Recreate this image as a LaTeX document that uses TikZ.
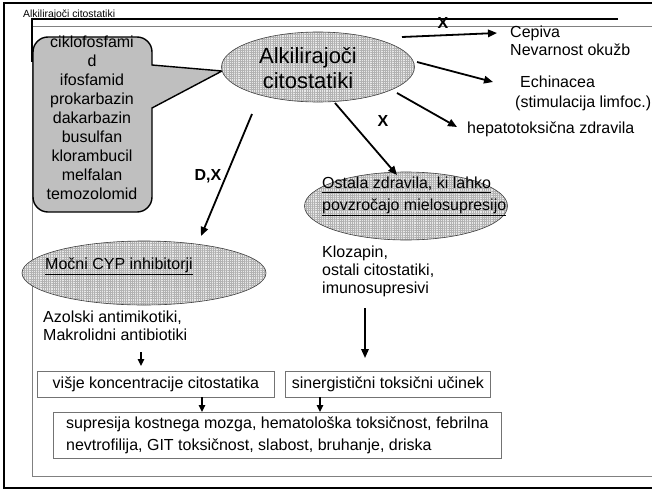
\documentclass[tikz,border=0pt]{standalone}
\usepackage{fontspec}
\setmainfont{Liberation Sans}
\usetikzlibrary{arrows.meta,shapes.geometric,patterns.meta}
\begin{document}
\begin{tikzpicture}[x=1pt,y=-1pt,
  txt/.style={inner sep=0pt, font=\fontsize{16}{18}\selectfont},
  lbl/.style={inner sep=0pt, font=\fontsize{16}{18}\selectfont\bfseries},
  arr/.style={line width=1.8pt, -{Triangle[length=9pt,width=7.5pt]}},
  sarr/.style={line width=1.5pt, -{Triangle[length=7pt,width=6.5pt]}},
  ell/.style={ellipse, draw=black!75, line width=0.6pt, inner sep=0pt,
    preaction={fill=gray!18},
    pattern={Hatch[angle=0,distance=2.2pt,line width=0.35pt]}, pattern color=gray!60},
  box/.style={draw=black!55, line width=0.8pt, inner sep=0pt,
    font=\fontsize{16}{22}\selectfont},
  callout/.style={draw=black, line width=1.4pt, fill=black!25}
]
\useasboundingbox (0,0) rectangle (652,490);
% frames
\draw[line width=2pt] (652,3) -- (4,3) -- (4,488) -- (652,488);
\draw[black!50, line width=0.8pt] (652,26) -- (32,26) -- (32,476) -- (652,476);
\draw[line width=1.2pt] (618,19) -- (32,19) -- (32,62);
\node[anchor=base west, inner sep=0pt, font=\fontsize{10.4}{12}\selectfont] (title) at (23,17.5) {Alkilirajoči citostatiki};

% callout
\draw[callout] (33,80) [rounded corners=15pt] -- (33,212) -- (152,212) -- (152,150)
  [sharp corners] -- (152,108) -- (222,71) -- (152,65) -- (152,55)
  [rounded corners=15pt] -- (152,37) -- (33,37) -- cycle;
\node[txt, align=center, anchor=north, font=\fontsize{16}{19}\selectfont] (drugs) at (92,36)
  {ciklofosfami\\d\\ifosfamid\\prokarbazin\\dakarbazin\\busulfan\\klorambucil\\melfalan\\temozolomid};

% ellipses
\node[ell, minimum width=193, minimum height=70] (main) at (318,67) {};
\node[inner sep=0pt, align=center, anchor=north, font=\fontsize{22}{25}\selectfont] (mainlbl) at (308,47) {Alkilirajoči\\citostatiki};

\node[ell, minimum width=203, minimum height=68] (ostala) at (406,206) {};
\node[txt, align=left, anchor=north west, font=\fontsize{16}{22}\selectfont] (ostalalbl) at (322,177)
  {\underline{Ostala zdravila, ki lahko}\\\underline{povzročajo mielosupresijo}};

\node[ell, minimum width=244, minimum height=64] (cyp) at (144,273) {};
\node[txt, anchor=north west] (cyplbl) at (45,258) {\underline{Močni CYP inhibitorji}};

% texts
\node[txt, align=left, anchor=north west] (cepiva) at (510,26) {Cepiva\\Nevarnost okužb};
\node[txt, align=left, anchor=north west, font=\fontsize{16}{20}\selectfont] (echin) at (515,76)
  {\hspace*{5pt}Echinacea\\(stimulacija limfoc.)};
\node[txt, anchor=north west] (hepato) at (467,122) {hepatotoksična zdravila};
\node[txt, align=left, anchor=north west] (azol) at (43,311) {Azolski antimikotiki,\\Makrolidni antibiotiki};
\node[txt, align=left, anchor=north west] (kloz) at (322,246) {Klozapin,\\ostali citostatiki,\\imunosupresivi};

% boxes
\node[box, minimum width=237, minimum height=26, anchor=north west] (visje) at (37,371) {višje koncentracije citostatika};
\node[box, minimum width=205, minimum height=26, anchor=north west] (siner) at (285,371) {sinergistični toksični učinek};
\node[box, align=left, minimum width=448, minimum height=46, anchor=north west] (bottom) at (53,412)
  {supresija kostnega mozga, hematološka toksičnost, febrilna\\nevtrofilija, GIT toksičnost, slabost, bruhanje, driska};

% connector endpoints
\coordinate (s1) at (402,37); \coordinate (e1) at (497,33);
\coordinate (s2) at (417,62); \coordinate (e2) at (493,82);
\coordinate (s3) at (397,93); \coordinate (e3) at (457,127);
\coordinate (s4) at (335,103); \coordinate (e4) at (397,175);
\coordinate (s5) at (252,114); \coordinate (e5) at (201,236);
\coordinate (s6) at (141,352); \coordinate (e6) at (141,366);
\coordinate (s7) at (365,308); \coordinate (e7) at (365,358);
\coordinate (s8) at (202,397);
\coordinate (s9) at (320,397);

\draw[arr] (s1) -- (e1);
\draw[arr] (s2) -- (e2);
\draw[arr] (s3) -- (e3);
\draw[arr] (s4) -- (e4);
\draw[arr] (s5) -- (e5);
\draw[sarr] (s6) -- (e6);
\draw[arr] (s7) -- (e7);
\draw[sarr] (s8) -- (bottom.north -| s8);
\draw[sarr] (s9) -- (bottom.north -| s9);

% labels
\node[lbl] (x1) at (443,23) {X};
\node[lbl] (x2) at (383,121) {X};
\node[lbl] (dx) at (208,176) {D,X};
\end{tikzpicture}
\end{document}
